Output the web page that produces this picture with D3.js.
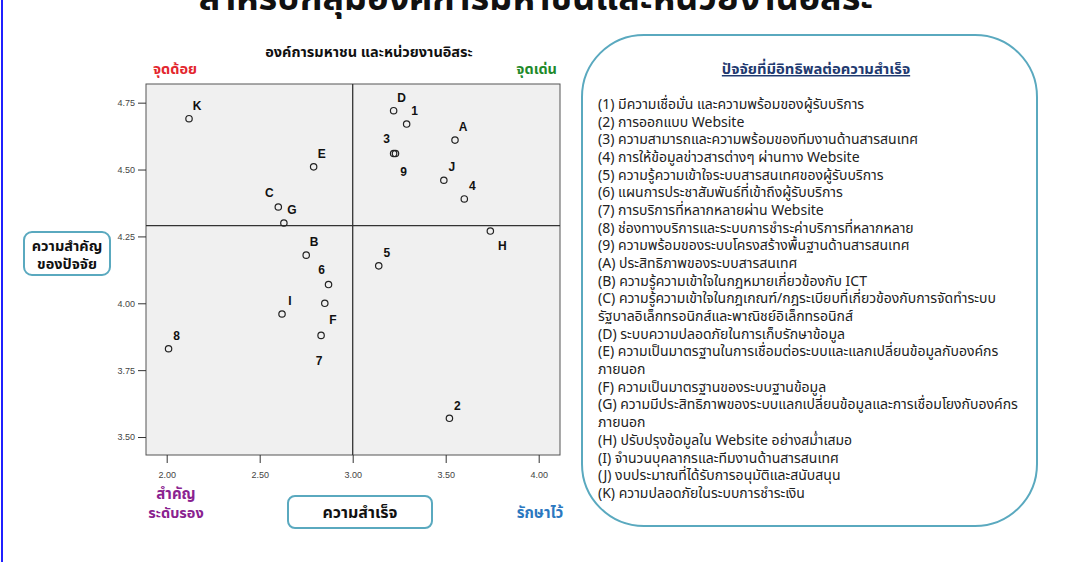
<!DOCTYPE html>
<html lang="th">
  <head>
    <meta charset="utf-8">
    <title>ปัจจัยที่มีอิทธิพลต่อความสำเร็จ</title>
    <style>
      body {
          margin: 0;
          background: white;
          font-family: Tahoma, "Noto Sans Thai", "DejaVu Sans", sans-serif;
      }
      svg { display: block; }
      .tick text { fill: #444; font-size: 9px; font-family: "Liberation Sans Narrow", Arial, sans-serif; }
      .tick line { stroke: #333; }
    </style>
    <script src="https://d3js.org/d3.v7.min.js"></script>
  </head>
  <body>
    <div class="viz"></div>
    <script>
    // factor codes and their mean scores
    const codes = ["1","2","3","4","5","6","7","8","9","A","B","C","D","E","F","G","H","I","J","K"]
    const success = [3.29,3.52,3.22,3.60,3.14,2.87,2.83,2.01,3.23,3.55,2.75,2.60,3.22,2.79,2.85,2.63,3.74,2.62,3.49,2.12]
    const importance = [4.67,3.57,4.56,4.39,4.14,4.07,3.88,3.83,4.56,4.61,4.18,4.36,4.72,4.51,4.00,4.30,4.27,3.96,4.46,4.69]
    const refX = 3.00, refY = 4.29
    const xTicks = [2.00, 2.50, 3.00, 3.50, 4.00]
    const yTicks = [3.50, 3.75, 4.00, 4.25, 4.50, 4.75]

    const factors = [
      "(1) มีความเชื่อมั่น และความพร้อมของผู้รับบริการ",
      "(2) การออกแบบ Website",
      "(3) ความสามารถและความพร้อมของทีมงานด้านสารสนเทศ",
      "(4) การให้ข้อมูลข่าวสารต่างๆ ผ่านทาง Website",
      "(5) ความรู้ความเข้าใจระบบสารสนเทศของผู้รับบริการ",
      "(6) แผนการประชาสัมพันธ์ที่เข้าถึงผู้รับบริการ",
      "(7) การบริการที่หลากหลายผ่าน Website",
      "(8) ช่องทางบริการและระบบการชำระค่าบริการที่หลากหลาย",
      "(9) ความพร้อมของระบบโครงสร้างพื้นฐานด้านสารสนเทศ",
      "(A) ประสิทธิภาพของระบบสารสนเทศ",
      "(B) ความรู้ความเข้าใจในกฎหมายเกี่ยวข้องกับ ICT",
      "(C) ความรู้ความเข้าใจในกฎเกณฑ์/กฎระเบียบที่เกี่ยวข้องกับการจัดทำระบบ",
      "รัฐบาลอิเล็กทรอนิกส์และพาณิชย์อิเล็กทรอนิกส์",
      "(D) ระบบความปลอดภัยในการเก็บรักษาข้อมูล",
      "(E) ความเป็นมาตรฐานในการเชื่อมต่อระบบและแลกเปลี่ยนข้อมูลกับองค์กร",
      "ภายนอก",
      "(F) ความเป็นมาตรฐานของระบบฐานข้อมูล",
      "(G) ความมีประสิทธิภาพของระบบแลกเปลี่ยนข้อมูลและการเชื่อมโยงกับองค์กร",
      "ภายนอก",
      "(H) ปรับปรุงข้อมูลใน Website อย่างสม่ำเสมอ",
      "(I) จำนวนบุคลากรและทีมงานด้านสารสนเทศ",
      "(J) งบประมาณที่ได้รับการอนุมัติและสนับสนุน",
      "(K) ความปลอดภัยในระบบการชำระเงิน"
    ]

    // label nudges (px) where the default upper-right spot collides
    const nudge = { C:[-9,-14], H:[12,15], "6":[-7,-15], "3":[-7,-15], "9":[8,18], F:[8,17], "7":[-2,25] }

    const data = codes.map((c,i)=>({code:c, x:success[i], y:importance[i]}))

    const W = 1072, H = 562
    const plot = {left:146, right:560, top:84, bottom:455}

    const svg = d3.select(".viz").append("svg")
      .attr("width",W).attr("height",H)

    // blue page frame on the left
    svg.append("line").attr("x1",2).attr("x2",2).attr("y1",0).attr("y2",H)
      .attr("stroke","#2020ff").attr("stroke-width",2)

    // slide title, its top cut off by the page edge as in the source
    svg.append("text").attr("x",536).attr("y",10)
      .attr("text-anchor","middle")
      .style("font-size","36px").style("font-weight","bold").style("fill","#111")
      .text("สำหรับกลุ่มองค์การมหาชนและหน่วยงานอิสระ")

    const x = d3.scaleLinear().domain([1.8887,4.1145]).range([plot.left,plot.right])
    const y = d3.scaleLinear().domain([3.4328,4.8198]).range([plot.bottom,plot.top])

    svg.append("rect")
      .attr("x",plot.left).attr("y",plot.top)
      .attr("width",plot.right-plot.left).attr("height",plot.bottom-plot.top)
      .attr("fill","#f0f0f0").attr("stroke","#555").attr("stroke-width",1)

    svg.append("g")
      .attr("transform",`translate(0,${plot.bottom})`)
      .call(d3.axisBottom(x).tickValues(xTicks).tickFormat(d3.format(".2f")).tickSize(8).tickPadding(9))
      .call(g=>g.select(".domain").remove())

    svg.append("g")
      .attr("transform",`translate(${plot.left},0)`)
      .call(d3.axisLeft(y).tickValues(yTicks).tickFormat(d3.format(".2f")).tickSize(8).tickPadding(3))
      .call(g=>g.select(".domain").remove())

    // reference lines
    svg.append("line")
      .attr("x1",x(refX)).attr("x2",x(refX)).attr("y1",plot.top).attr("y2",plot.bottom)
      .attr("stroke","#333").attr("stroke-width",1.3)
    svg.append("line")
      .attr("x1",plot.left).attr("x2",plot.right).attr("y1",y(refY)).attr("y2",y(refY))
      .attr("stroke","#333").attr("stroke-width",1.3)

    svg.append("g").selectAll("circle")
      .data(data)
      .join("circle")
      .attr("cx",d=>x(d.x)).attr("cy",d=>y(d.y))
      .attr("r",3.2)
      .attr("fill","none").attr("stroke","#222").attr("stroke-width",1.2)

    svg.append("g").selectAll("text")
      .data(data)
      .join("text")
      .attr("x",d=>x(d.x)+(nudge[d.code]?nudge[d.code][0]:8))
      .attr("y",d=>y(d.y)+(nudge[d.code]?nudge[d.code][1]:-13))
      .attr("dy","0.35em")
      .attr("text-anchor","middle")
      .style("font-family","Arial, 'Liberation Sans', sans-serif")
      .style("font-size","12px").style("font-weight","bold").style("fill","#111")
      .text(d=>d.code)

    // chart heading and quadrant captions
    svg.append("text").attr("x",369).attr("y",57).attr("text-anchor","middle")
      .style("font-size","14.5px").style("font-weight","bold").style("fill","#111")
      .text("องค์การมหาชน และหน่วยงานอิสระ")
    svg.append("text").attr("x",153).attr("y",74)
      .style("font-size","14.5px").style("font-weight","bold").style("fill","#e3262e")
      .text("จุดด้อย")
    svg.append("text").attr("x",557).attr("y",74).attr("text-anchor","end")
      .style("font-size","14.5px").style("font-weight","bold").style("fill","#1f8a2a")
      .text("จุดเด่น")

    svg.append("text").attr("x",176).attr("y",499).attr("text-anchor","middle")
      .style("font-size","15px").style("font-weight","bold").style("fill","#8a2290")
      .text("สำคัญ")
    svg.append("text").attr("x",176).attr("y",518).attr("text-anchor","middle")
      .style("font-size","14.5px").style("font-weight","bold").style("fill","#8a2290")
      .text("ระดับรอง")
    svg.append("text").attr("x",540).attr("y",518).attr("text-anchor","middle")
      .style("font-size","15px").style("font-weight","bold").style("fill","#2b78c0")
      .text("รักษาไว้")

    // axis title boxes
    const teal = "#5aa9bf"
    svg.append("rect").attr("x",24).attr("y",232).attr("width",86).attr("height",43)
      .attr("rx",8).attr("fill","white").attr("stroke",teal).attr("stroke-width",2)
    svg.append("text").attr("x",67).attr("y",251).attr("text-anchor","middle")
      .style("font-size","14.5px").style("font-weight","bold").style("fill","#111")
      .text("ความสำคัญ")
    svg.append("text").attr("x",67).attr("y",269).attr("text-anchor","middle")
      .style("font-size","14.5px").style("font-weight","bold").style("fill","#111")
      .text("ของปัจจัย")

    svg.append("rect").attr("x",288).attr("y",496).attr("width",144).attr("height",32)
      .attr("rx",7).attr("fill","white").attr("stroke",teal).attr("stroke-width",2)
    svg.append("text").attr("x",360).attr("y",518).attr("text-anchor","middle")
      .style("font-size","16px").style("font-weight","bold").style("fill","#111")
      .text("ความสำเร็จ")

    // legend panel
    svg.append("rect").attr("x",582).attr("y",35).attr("width",455).attr("height",491)
      .attr("rx",62).attr("fill","white").attr("stroke",teal).attr("stroke-width",2)
    svg.append("text").attr("x",816).attr("y",74).attr("text-anchor","middle")
      .style("font-size","14.8px").style("font-weight","bold").style("fill","#1f3a70")
      .style("text-decoration","underline")
      .text("ปัจจัยที่มีอิทธิพลต่อความสำเร็จ")

    svg.append("g").selectAll("text")
      .data(factors)
      .join("text")
      .attr("x",598)
      .attr("y",(d,i)=>104+i*17.68)
      .attr("dy","0.35em")
      .style("font-size","14px").style("fill","#222")
      .text(d=>d)
    </script>
  </body>
</html>
